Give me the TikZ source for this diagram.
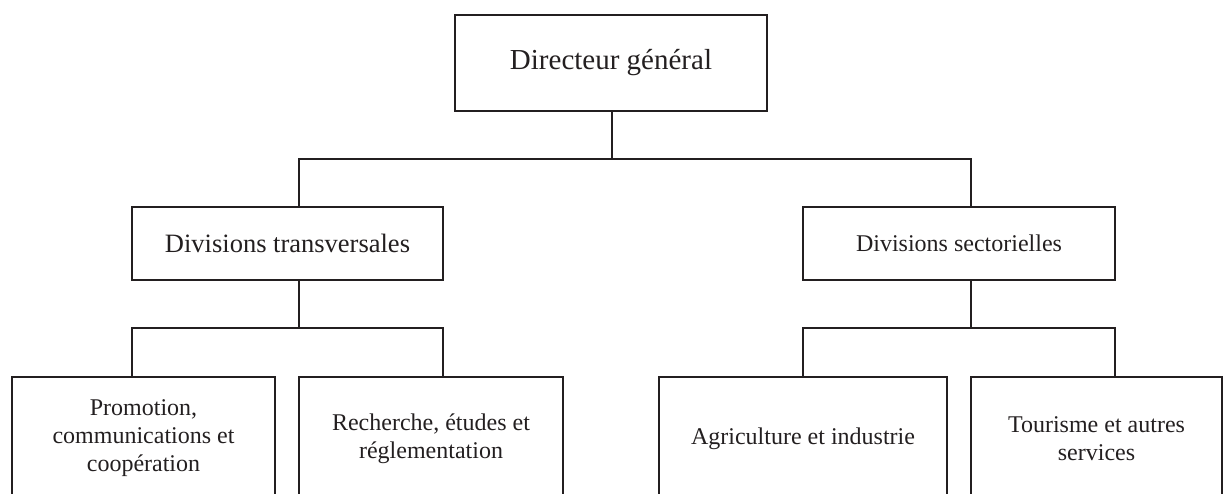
\documentclass[tikz,border=0pt]{standalone}
\usepackage{fontspec}
\setmainfont{Liberation Serif}
\definecolor{ink}{HTML}{231F20}
\begin{document}
\begin{tikzpicture}[x=0.5pt,y=-0.5pt,
  box/.style={draw=ink,line width=1pt,inner sep=0pt,align=center,text=ink},
  conn/.style={draw=ink,line width=1pt}]
\useasboundingbox (0,0) rectangle (1224,493);
\clip (0,0) rectangle (1224,493);
\node[box,minimum width=156pt,minimum height=48pt,font=\fontsize{14.5pt}{17pt}\selectfont] (top) at (611,63) {Directeur général};
\node[box,minimum width=155.5pt,minimum height=36.5pt,font=\fontsize{13.25pt}{16pt}\selectfont] (lm) at (287.5,243.5) {Divisions transversales};
\node[box,minimum width=156pt,minimum height=36.5pt,font=\fontsize{12pt}{14pt}\selectfont] (rm) at (959,243.5) {Divisions sectorielles};
\node[box,minimum width=131.5pt,minimum height=61.5pt,font=\fontsize{12pt}{14pt}\selectfont] (b1) at (143.5,438.5) {Promotion,\\communications et\\coopération};
\node[box,minimum width=132pt,minimum height=61.5pt,font=\fontsize{12pt}{14pt}\selectfont] (b2) at (431,438.5) {Recherche, études et\\réglementation};
\node[box,minimum width=144pt,minimum height=61.5pt,font=\fontsize{12pt}{14pt}\selectfont] (b3) at (803,438.5) {Agriculture et industrie};
\node[box,minimum width=125.5pt,minimum height=61.5pt,font=\fontsize{12pt}{14pt}\selectfont] (b4) at (1096.5,438.5) {Tourisme et autres\\services};
% top level connectors
\coordinate (j0) at (612,159);
\coordinate (cl) at (299,159);
\coordinate (cr) at (971,159);
\draw[conn] (j0 |- top.south) -- (j0);
\draw[conn] (cl |- lm.north) -- (cl) -- (cr) -- (cr |- rm.north);
% left branch
\coordinate (dl) at (299,328);
\coordinate (a1) at (132,328);
\coordinate (a2) at (443,328);
\draw[conn] (dl |- lm.south) -- (dl);
\draw[conn] (a1 |- b1.north) -- (a1) -- (a2) -- (a2 |- b2.north);
% right branch
\coordinate (dr) at (971,328);
\coordinate (c1) at (803,328);
\coordinate (c2) at (1115,328);
\draw[conn] (dr |- rm.south) -- (dr);
\draw[conn] (c1 |- b3.north) -- (c1) -- (c2) -- (c2 |- b4.north);
\end{tikzpicture}
\end{document}
